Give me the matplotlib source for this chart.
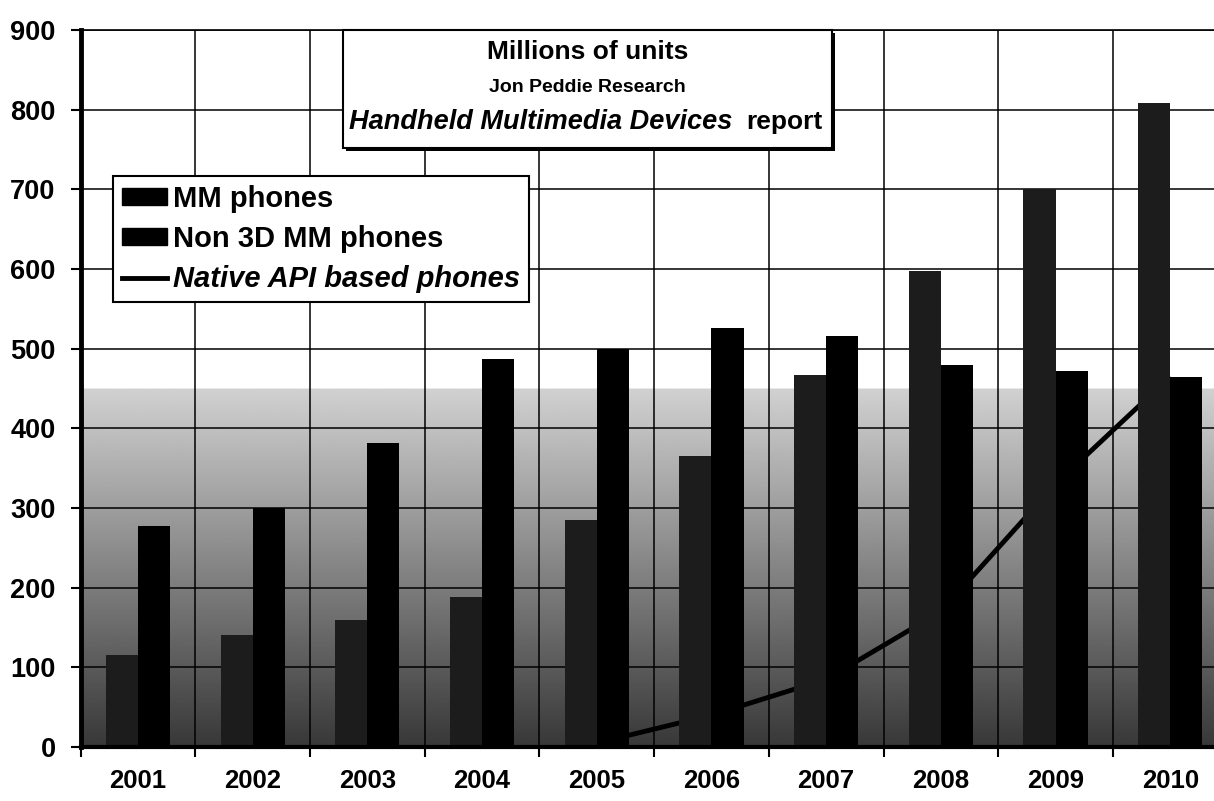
import numpy as np
import matplotlib
matplotlib.use("Agg")
import matplotlib.pyplot as plt
from matplotlib.patches import Patch, Rectangle
from matplotlib.lines import Line2D

# -------------------------
# Data (millions of units)
# -------------------------
years = ["2001", "2002", "2003", "2004", "2005", "2006", "2007", "2008", "2009", "2010"]
mm_phones = [115, 140, 160, 188, 285, 365, 467, 598, 701, 809]
non3d_mm_phones = [278, 300, 381, 487, 500, 526, 516, 480, 472, 464]
native_api_phones = [np.nan, np.nan, np.nan, np.nan, 5, 40, 85, 170, 330, 465]

FONT = "Liberation Sans"

# -------------------------
# Figure / axes
# -------------------------
fig = plt.figure(figsize=(12.14, 8.01), dpi=100)
ax = fig.add_axes([0.0664, 0.0674, 0.9448, 0.8951])

x = np.arange(len(years))
bar_w = 0.28

# plot-area background: white on top, grey fade toward the bottom
yy = np.linspace(0, 900, 600)
shade = np.where(yy > 450, 1.0, 0.22 + 0.6 * yy / 450)
ax.imshow(shade[:, None], extent=(-0.5, 9.5, 0, 900), origin="lower",
          aspect="auto", cmap="gray", vmin=0, vmax=1, zorder=0,
          interpolation="bilinear")

ax.plot(x, native_api_phones, color="black", lw=3.5, zorder=1.5,
        solid_capstyle="butt")
ax.bar(x - bar_w / 2, mm_phones, width=bar_w, color="#1c1c1c", zorder=2)
ax.bar(x + bar_w / 2, non3d_mm_phones, width=bar_w, color="black", zorder=2)

# -------------------------
# Axes styling
# -------------------------
ax.set_xlim(-0.5, 9.5)
ax.set_ylim(0, 900)
ax.set_axisbelow(True)

ax.set_xticks(np.arange(-0.5, 10, 1))
ax.set_xticklabels([])
ax.set_xticks(x, minor=True)
ax.set_xticklabels(years, minor=True)
ax.tick_params(axis="x", which="minor", length=0, pad=16)
ax.tick_params(axis="x", which="major", length=7, width=1.5, direction="out")

ax.set_yticks(np.arange(0, 901, 100))
ax.tick_params(axis="y", length=7, width=1.5, direction="out", pad=11)

for lab in ax.get_xticklabels(minor=True):
    lab.set_fontfamily(FONT)
    lab.set_fontweight("bold")
    lab.set_fontsize(18.5)
for lab in ax.get_yticklabels():
    lab.set_fontfamily(FONT)
    lab.set_fontweight("bold")
    lab.set_fontsize(19.5)

ax.grid(True, which="major", axis="both", color="black", lw=1.1)

ax.spines["left"].set_linewidth(3.5)
ax.spines["bottom"].set_linewidth(3)
ax.spines["top"].set_linewidth(1.2)
ax.spines["right"].set_linewidth(1.2)

# -------------------------
# Title box with shadow
# -------------------------
bx0, bx1, by0, by1 = 0.2288, 0.6551, 0.8354, 1.0
ax.add_patch(Rectangle((bx0 + 0.003, by0 - 0.004), bx1 - bx0, by1 - by0,
                       transform=ax.transAxes, facecolor="black",
                       edgecolor="none", zorder=5, clip_on=False))
ax.add_patch(Rectangle((bx0, by0), bx1 - bx0, by1 - by0,
                       transform=ax.transAxes, facecolor="white",
                       edgecolor="black", lw=1.5, zorder=6, clip_on=False))
cx = (bx0 + bx1) / 2
ax.text(cx, 0.970, "Millions of units", transform=ax.transAxes,
        ha="center", va="center", fontsize=19, fontweight="bold",
        family=FONT, zorder=7)
ax.text(cx, 0.920, "Jon Peddie Research", transform=ax.transAxes,
        ha="center", va="center", fontsize=14, fontweight="bold",
        family=FONT, zorder=7)
ax.text(0.5679, 0.872, "Handheld Multimedia Devices", transform=ax.transAxes,
        ha="right", va="center", fontsize=19.5, fontweight="bold",
        fontstyle="italic", family=FONT, zorder=7)
ax.text(0.5803, 0.872, "report", transform=ax.transAxes,
        ha="left", va="center", fontsize=19, fontweight="bold",
        family=FONT, zorder=7)

# -------------------------
# Legend
# -------------------------
handles = [
    Patch(facecolor="black", edgecolor="black"),
    Patch(facecolor="black", edgecolor="black"),
    Line2D([0], [0], color="black", lw=3.5),
]
labels = ["MM phones", "Non 3D MM phones", "Native API based phones"]
leg = ax.legend(handles, labels, loc="upper left",
                bbox_to_anchor=(0.0282, 0.7964), borderaxespad=0,
                prop=dict(family=FONT, size=21, weight="bold"), frameon=True,
                fancybox=False, framealpha=1, edgecolor="black",
                handlelength=1.55, handleheight=0.5, handletextpad=0.22,
                borderpad=0.3, labelspacing=0.42)
leg.get_frame().set_linewidth(1.5)
leg.set_zorder(8)
leg.get_texts()[2].set_fontstyle("italic")

fig.savefig("out.png", dpi=100)
